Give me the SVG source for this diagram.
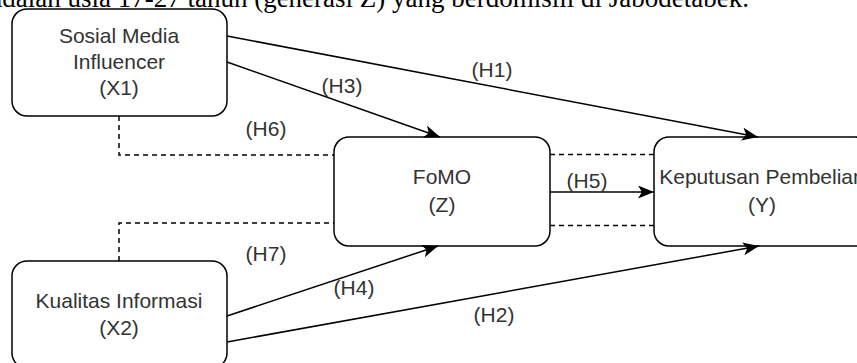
<svg xmlns="http://www.w3.org/2000/svg" width="857" height="363" viewBox="0 0 857 363">
<style>
.box{fill:#ffffff;stroke:#000000;stroke-width:1.5}
.t{font-family:"Liberation Sans",Arial,sans-serif;font-size:21px;fill:#333333;text-anchor:middle}
.lbl{font-family:"Liberation Sans",Arial,sans-serif;font-size:21px;fill:#333333;text-anchor:middle}
.e{fill:none;stroke:#000000;stroke-width:1.5}
.d{fill:none;stroke:#000000;stroke-width:1.5;stroke-dasharray:5 4}
.cap{font-family:"Liberation Serif","Times New Roman",serif;font-size:27px;fill:#000000}
</style>
<defs>
<marker id="arr" markerUnits="userSpaceOnUse" markerWidth="17" markerHeight="14" refX="16" refY="6.5" orient="auto">
<path d="M0,0 L16,6.5 L0,13 L4,6.5 Z" fill="#000000"/>
</marker>
</defs>
<rect width="857" height="363" fill="#ffffff"/>
<text class="cap" x="749" y="7" text-anchor="end">adalah usia 17-27 tahun (generasi Z) yang berdomisili di Jabodetabek.</text>

<g id="node-x1">
<rect class="box" x="12" y="9" width="215" height="107" rx="15" ry="15"/>
<text class="t" x="119" y="43">Sosial Media</text>
<text class="t" x="119" y="69">Influencer</text>
<text class="t" x="119" y="95">(X1)</text>
</g>
<g id="node-x2">
<rect class="box" x="12" y="261" width="215" height="107" rx="15" ry="15"/>
<text class="t" x="119" y="308">Kualitas Informasi</text>
<text class="t" x="119" y="335">(X2)</text>
</g>
<g id="node-z">
<rect class="box" x="334" y="137" width="216" height="109" rx="15" ry="15"/>
<text class="t" x="442" y="184">FoMO</text>
<text class="t" x="442" y="212">(Z)</text>
</g>
<g id="node-y">
<rect class="box" x="654" y="137" width="216" height="109" rx="15" ry="15"/>
<text class="t" x="762" y="184">Keputusan Pembelian</text>
<text class="t" x="762" y="212">(Y)</text>
</g>

<g id="connectors">
<line class="e" x1="227" y1="36" x2="758" y2="137" marker-end="url(#arr)"/>
<line class="e" x1="227" y1="62" x2="440" y2="137" marker-end="url(#arr)"/>
<line class="e" x1="227" y1="316" x2="438" y2="246" marker-end="url(#arr)"/>
<line class="e" x1="227" y1="342" x2="759" y2="246" marker-end="url(#arr)"/>
<line class="e" x1="550" y1="192" x2="654" y2="192" marker-end="url(#arr)"/>
<polyline class="d" points="119,116 119,155 334,155"/>
<polyline class="d" points="119,261 119,223 334,223"/>
<line class="d" x1="550" y1="154.5" x2="654" y2="154.5"/>
<line class="d" x1="550" y1="225.5" x2="654" y2="225.5"/>
<text class="lbl" x="492" y="77">(H1)</text>
<text class="lbl" x="342" y="93">(H3)</text>
<text class="lbl" x="266" y="136">(H6)</text>
<text class="lbl" x="266" y="261">(H7)</text>
<text class="lbl" x="354" y="295">(H4)</text>
<text class="lbl" x="494" y="322">(H2)</text>
<text class="lbl" x="587" y="188">(H5)</text>
</g>
</svg>
